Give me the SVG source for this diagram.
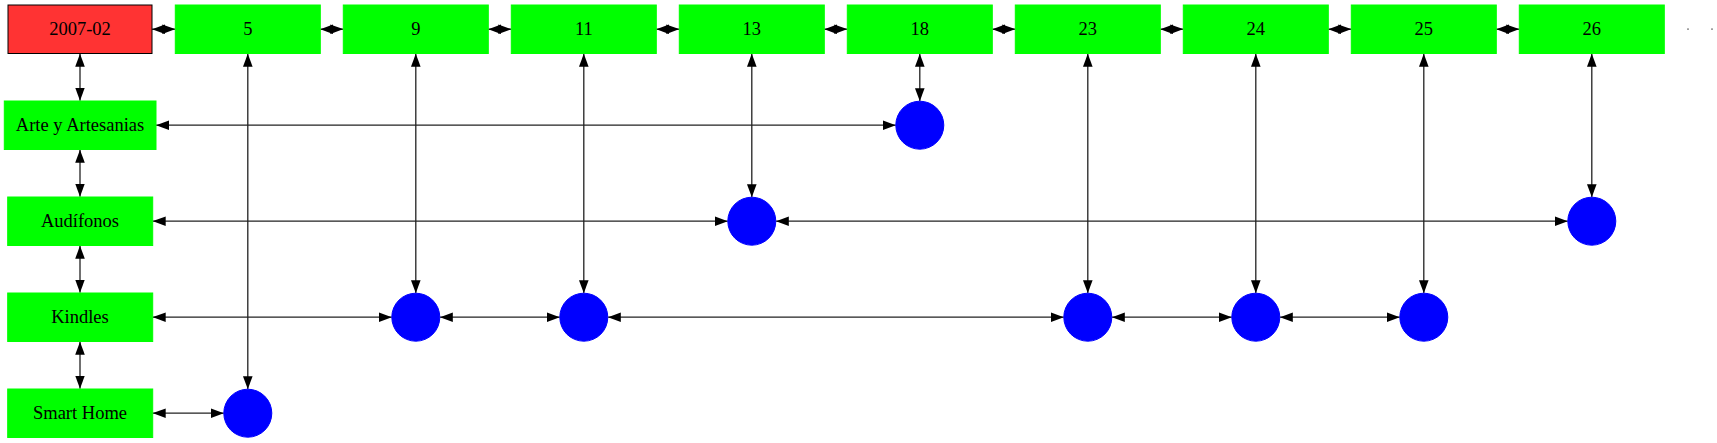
<svg xmlns="http://www.w3.org/2000/svg" width="1717" height="443" viewBox="0 0 1717 443">
<defs>
<style>
text{font-family:"Liberation Serif","Times New Roman","DejaVu Serif",serif;font-size:18.5px;fill:#000;text-anchor:middle}
.box{fill:#00ff00;stroke:#00ff00;stroke-width:1}
.date{fill:#ff3333;stroke:#000;stroke-width:1}
.pt{fill:#0000ff;stroke:#0000ff;stroke-width:1}
.e{stroke:#222;stroke-width:1.3;fill:none;marker-start:url(#ah);marker-end:url(#ah)}
</style>
<marker id="ah" viewBox="0 0 13 9.6" refX="13" refY="4.8" markerWidth="13" markerHeight="9.6" markerUnits="userSpaceOnUse" orient="auto-start-reverse">
<path d="M0,0 L13,4.8 L0,9.6 z" fill="#000"/>
</marker>
</defs>
<rect width="1717" height="443" fill="#fff"/>
<g id="connectors">
<line class="e" x1="152" y1="29.2" x2="175.3" y2="29.2"/>
<line class="e" x1="320.3" y1="29.2" x2="343.3" y2="29.2"/>
<line class="e" x1="488.3" y1="29.2" x2="511.3" y2="29.2"/>
<line class="e" x1="656.3" y1="29.2" x2="679.3" y2="29.2"/>
<line class="e" x1="824.3" y1="29.2" x2="847.3" y2="29.2"/>
<line class="e" x1="992.3" y1="29.2" x2="1015.3" y2="29.2"/>
<line class="e" x1="1160.3" y1="29.2" x2="1183.3" y2="29.2"/>
<line class="e" x1="1328.3" y1="29.2" x2="1351.3" y2="29.2"/>
<line class="e" x1="1496.3" y1="29.2" x2="1519.3" y2="29.2"/>
<line class="e" x1="80" y1="53.7" x2="80" y2="100.7"/>
<line class="e" x1="80" y1="149.7" x2="80" y2="196.7"/>
<line class="e" x1="80" y1="245.7" x2="80" y2="292.7"/>
<line class="e" x1="80" y1="341.7" x2="80" y2="388.7"/>
<line class="e" x1="247.8" y1="53.7" x2="247.8" y2="389.2"/>
<line class="e" x1="415.8" y1="53.7" x2="415.8" y2="293.2"/>
<line class="e" x1="583.8" y1="53.7" x2="583.8" y2="293.2"/>
<line class="e" x1="751.8" y1="53.7" x2="751.8" y2="197.2"/>
<line class="e" x1="919.8" y1="53.7" x2="919.8" y2="101.2"/>
<line class="e" x1="1087.8" y1="53.7" x2="1087.8" y2="293.2"/>
<line class="e" x1="1255.8" y1="53.7" x2="1255.8" y2="293.2"/>
<line class="e" x1="1423.8" y1="53.7" x2="1423.8" y2="293.2"/>
<line class="e" x1="1591.8" y1="53.7" x2="1591.8" y2="197.2"/>
<line class="e" x1="156" y1="125.2" x2="895.8" y2="125.2"/>
<line class="e" x1="152.7" y1="221.2" x2="727.8" y2="221.2"/>
<line class="e" x1="775.8" y1="221.2" x2="1567.8" y2="221.2"/>
<line class="e" x1="152.7" y1="317.2" x2="391.8" y2="317.2"/>
<line class="e" x1="439.8" y1="317.2" x2="559.8" y2="317.2"/>
<line class="e" x1="607.8" y1="317.2" x2="1063.8" y2="317.2"/>
<line class="e" x1="1111.8" y1="317.2" x2="1231.8" y2="317.2"/>
<line class="e" x1="1279.8" y1="317.2" x2="1399.8" y2="317.2"/>
<line class="e" x1="152.7" y1="413.2" x2="223.8" y2="413.2"/>
</g>
<g id="n-date"><rect class="date" x="8" y="5" width="144" height="48.5"/><text x="80" y="35">2007-02</text></g>
<g id="n-5"><rect class="box" x="175.3" y="5" width="145" height="48.5"/><text x="247.8" y="35">5</text></g>
<g id="n-9"><rect class="box" x="343.3" y="5" width="145" height="48.5"/><text x="415.8" y="35">9</text></g>
<g id="n-11"><rect class="box" x="511.3" y="5" width="145" height="48.5"/><text x="583.8" y="35">11</text></g>
<g id="n-13"><rect class="box" x="679.3" y="5" width="145" height="48.5"/><text x="751.8" y="35">13</text></g>
<g id="n-18"><rect class="box" x="847.3" y="5" width="145" height="48.5"/><text x="919.8" y="35">18</text></g>
<g id="n-23"><rect class="box" x="1015.3" y="5" width="145" height="48.5"/><text x="1087.8" y="35">23</text></g>
<g id="n-24"><rect class="box" x="1183.3" y="5" width="145" height="48.5"/><text x="1255.8" y="35">24</text></g>
<g id="n-25"><rect class="box" x="1351.3" y="5" width="145" height="48.5"/><text x="1423.8" y="35">25</text></g>
<g id="n-26"><rect class="box" x="1519.3" y="5" width="145" height="48.5"/><text x="1591.8" y="35">26</text></g>
<g id="n-dot1"><rect x="1687" y="28.5" width="2" height="1.2" fill="#777"/></g>
<g id="n-dot2"><rect x="1711" y="28.5" width="2" height="1.2" fill="#777"/></g>
<g id="n-arte"><rect class="box" x="4.3" y="101" width="151.7" height="48.5"/><text x="80" y="131">Arte y Artesanias</text></g>
<g id="n-audifonos"><rect class="box" x="7.7" y="197" width="145" height="48.5"/><text x="80" y="227">Audífonos</text></g>
<g id="n-kindles"><rect class="box" x="7.7" y="293" width="145" height="48.5"/><text x="80" y="323">Kindles</text></g>
<g id="n-smarthome"><rect class="box" x="7.7" y="389" width="145" height="48.5"/><text x="80" y="419">Smart Home</text></g>
<g id="p-arte-18"><circle class="pt" cx="919.8" cy="125.2" r="24"/></g>
<g id="p-aud-13"><circle class="pt" cx="751.8" cy="221.2" r="24"/></g>
<g id="p-aud-26"><circle class="pt" cx="1591.8" cy="221.2" r="24"/></g>
<g id="p-kin-9"><circle class="pt" cx="415.8" cy="317.2" r="24"/></g>
<g id="p-kin-11"><circle class="pt" cx="583.8" cy="317.2" r="24"/></g>
<g id="p-kin-23"><circle class="pt" cx="1087.8" cy="317.2" r="24"/></g>
<g id="p-kin-24"><circle class="pt" cx="1255.8" cy="317.2" r="24"/></g>
<g id="p-kin-25"><circle class="pt" cx="1423.8" cy="317.2" r="24"/></g>
<g id="p-sh-5"><circle class="pt" cx="247.8" cy="413.2" r="24"/></g>
</svg>
